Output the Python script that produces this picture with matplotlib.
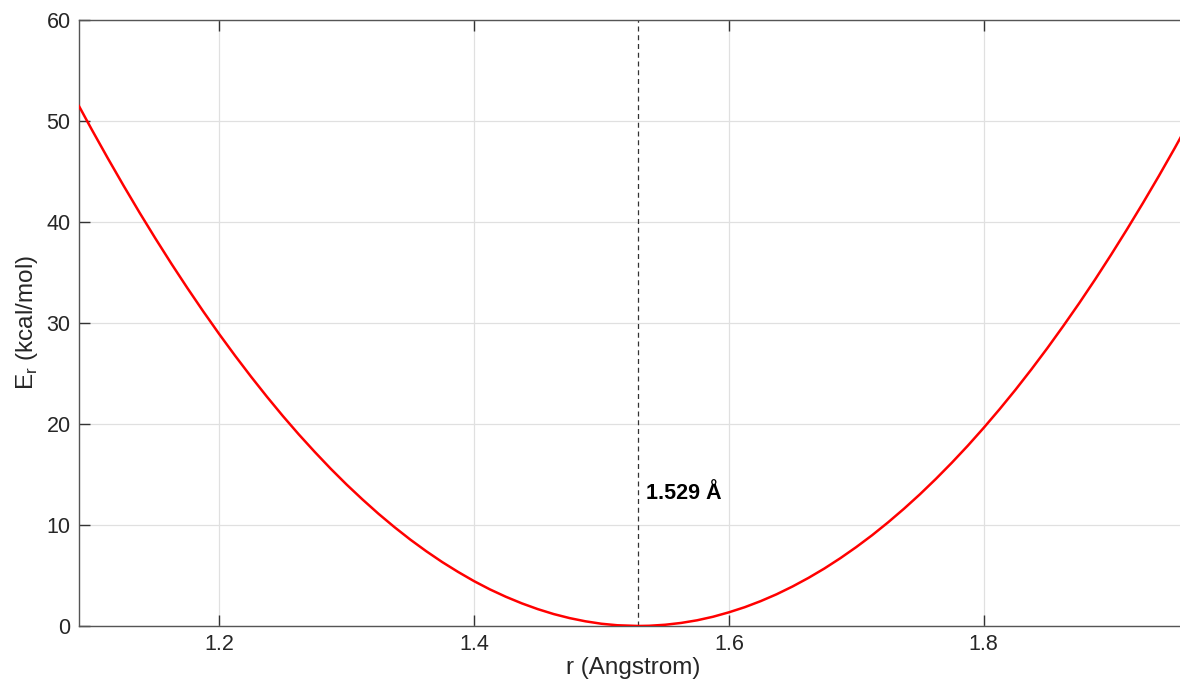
import matplotlib
matplotlib.use("Agg")
import matplotlib.pyplot as plt

plt.rcParams['font.family'] = ['Liberation Sans', 'DejaVu Sans']

# bond length (Angstrom) and stretch energy (kcal/mol)
r = [1.0900, 1.1000, 1.1125, 1.1250, 1.1375, 1.1500, 1.1625, 1.1750,
     1.1875, 1.2000, 1.2125, 1.2250, 1.2375, 1.2500, 1.2625, 1.2750,
     1.2875, 1.3000, 1.3125, 1.3250, 1.3375, 1.3500, 1.3625, 1.3750,
     1.3875, 1.4000, 1.4125, 1.4250, 1.4375, 1.4500, 1.4625, 1.4750,
     1.4875, 1.5000, 1.5125, 1.5290, 1.5375, 1.5500, 1.5625, 1.5750,
     1.5875, 1.6000, 1.6125, 1.6250, 1.6375, 1.6500, 1.6625, 1.6750,
     1.6875, 1.7000, 1.7125, 1.7250, 1.7375, 1.7500, 1.7625, 1.7750,
     1.7875, 1.8000, 1.8125, 1.8250, 1.8375, 1.8500, 1.8625, 1.8750,
     1.8875, 1.9000, 1.9125, 1.9250, 1.9375, 1.9500, 1.9625]
energy = [51.46, 49.14, 46.32, 43.58, 40.92, 38.35, 35.86, 33.46,
          31.14, 28.90, 26.75, 24.68, 22.69, 20.78, 18.96, 17.23,
          15.57, 14.00, 12.52, 11.11, 9.79, 8.55, 7.40, 6.33,
          5.35, 4.44, 3.62, 2.89, 2.24, 1.67, 1.18, 0.78,
          0.46, 0.22, 0.07, 0.00, 0.02, 0.12, 0.30, 0.56,
          0.91, 1.35, 1.86, 2.46, 3.14, 3.91, 4.76, 5.69,
          6.71, 7.81, 8.99, 10.26, 11.61, 13.04, 14.56, 16.16,
          17.84, 19.61, 21.46, 23.39, 25.41, 27.51, 29.70, 31.96,
          34.31, 36.75, 39.27, 41.87, 44.55, 47.32, 50.18]
r_min = 1.529
min_label = "1.529 Å"
xticks = [1.2, 1.4, 1.6, 1.8]
yticks = [0, 10, 20, 30, 40, 50, 60]

fig = plt.figure(figsize=(11.8, 6.79), dpi=100)
ax = fig.add_axes([0.0669, 0.0781, 0.94, 0.8925])

ax.plot(r, energy, color='red', linewidth=1.8, zorder=3)
ax.plot([r_min, r_min], [0, 60], color='#333333', linestyle=(0, (4, 3)),
        linewidth=0.9, zorder=2)
ax.text(r_min + 0.006, 13.1, min_label, fontsize=15.5, fontweight='bold',
        va='center', ha='left', color='black')

ax.set_xlim(1.0899, 1.9605)
ax.set_ylim(0, 60)
ax.set_xticks(xticks)
ax.set_yticks(yticks)
ax.set_xticklabels([f"{t:.1f}" for t in xticks])
ax.grid(True, color='#e0e0e0', linewidth=0.9)
ax.set_axisbelow(True)

for s in ax.spines.values():
    s.set_color('#555555')
    s.set_linewidth(1.0)
ax.tick_params(direction='in', length=8, width=1.0, color='#333333',
               labelsize=15.5, labelcolor='#262626', top=True, right=False,
               pad=6)

ax.set_xlabel("r (Angstrom)", fontsize=17.5, color='#262626', labelpad=1)
ax.set_ylabel("E$_\\mathregular{r}$ (kcal/mol)", fontsize=17.5,
              color='#262626', labelpad=5)

fig.savefig("out.png", dpi=100)
